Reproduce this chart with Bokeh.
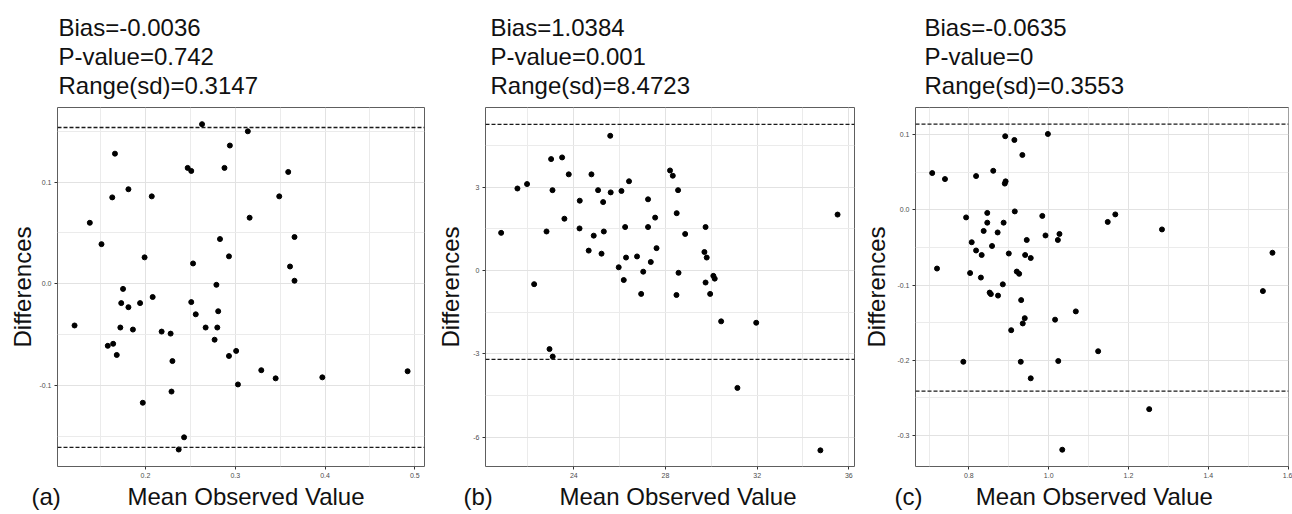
import numpy as np
from bokeh.plotting import figure
from bokeh.layouts import row
from bokeh.models import Span, FixedTicker, PrintfTickFormatter, Range1d, Title
from bokeh.embed import file_html
from bokeh.resources import INLINE

# ---------------- data ----------------
a_mean = [0.121, 0.138, 0.151, 0.158, 0.163, 0.164, 0.166, 0.168, 0.172, 0.173, 0.175, 0.181, 0.181, 0.186,
          0.194, 0.197, 0.199, 0.207, 0.208, 0.218, 0.228, 0.229, 0.230, 0.237, 0.243, 0.247, 0.251, 0.251,
          0.253, 0.256, 0.263, 0.267, 0.277, 0.279, 0.280, 0.281, 0.283, 0.288, 0.293, 0.293, 0.294, 0.301,
          0.303, 0.314, 0.316, 0.329, 0.345, 0.349, 0.359, 0.361, 0.366, 0.366, 0.397, 0.492]
a_diff = [-0.041, 0.060, 0.039, -0.061, 0.085, -0.059, 0.128, -0.070, -0.043, -0.019, -0.005, 0.093, -0.023,
          -0.045, -0.019, -0.117, 0.026, 0.086, -0.013, -0.047, -0.049, -0.106, -0.076, -0.163, -0.151, 0.114,
          0.111, -0.018, 0.020, -0.030, 0.157, -0.043, -0.055, -0.001, -0.043, -0.027, 0.044, 0.114, 0.027,
          -0.071, 0.136, -0.066, -0.099, 0.150, 0.065, -0.085, -0.093, 0.086, 0.110, 0.017, 0.046, 0.003,
          -0.092, -0.086]

b_mean = [20.83, 21.54, 21.96, 22.27, 22.81, 22.94, 23.01, 23.07, 23.08, 23.49, 23.59, 23.78, 24.25, 24.26,
          24.65, 24.77, 24.87, 25.06, 25.21, 25.28, 25.31, 25.59, 25.61, 25.96, 26.08, 26.18, 26.24, 26.28,
          26.41, 26.76, 26.94, 27.03, 27.24, 27.24, 27.36, 27.55, 27.61, 28.20, 28.32, 28.49, 28.48, 28.55,
          28.57, 28.86, 29.70, 29.75, 29.75, 29.80, 29.95, 30.09, 30.15, 30.43, 31.14, 31.96, 34.76, 35.51]
b_diff = [1.36, 2.96, 3.12, -0.49, 1.41, -2.83, 4.02, 2.90, -3.10, 4.08, 1.87, 3.47, 1.52, 2.52, 0.72, 3.47,
          1.26, 2.90, 0.61, 2.47, 1.41, 4.86, 2.82, 0.12, 2.87, -0.34, 1.57, 0.47, 3.22, 0.51, -0.84, -0.04,
          2.57, 1.57, 0.31, 1.91, 0.81, 3.61, 3.42, 2.07, -0.88, 2.90, -0.08, 1.32, 0.67, 1.57, -0.43, 0.47,
          -0.84, -0.19, -0.29, -1.83, -4.23, -1.88, -6.48, 2.02]

c_mean = [0.708, 0.720, 0.740, 0.786, 0.793, 0.803, 0.807, 0.818, 0.818, 0.830, 0.832, 0.837, 0.846, 0.846,
          0.852, 0.855, 0.858, 0.861, 0.872, 0.873, 0.885, 0.887, 0.890, 0.892, 0.891, 0.900, 0.906, 0.914,
          0.915, 0.920, 0.926, 0.930, 0.931, 0.934, 0.935, 0.940, 0.941, 0.945, 0.955, 0.955, 0.984, 0.992,
          0.998, 1.016, 1.023, 1.024, 1.027, 1.034, 1.068, 1.124, 1.148, 1.167, 1.252, 1.284, 1.537, 1.561]
c_diff = [0.049, -0.078, 0.041, -0.202, -0.010, -0.084, -0.043, 0.045, -0.054, -0.090, -0.060, -0.028, -0.004,
          -0.017, -0.110, -0.112, -0.048, 0.052, -0.030, -0.114, -0.099, -0.017, 0.035, 0.038, 0.098, -0.058,
          -0.160, 0.093, -0.002, -0.082, -0.085, -0.202, -0.120, 0.073, -0.151, -0.144, -0.060, -0.040, -0.224,
          -0.064, -0.008, -0.034, 0.101, -0.146, -0.040, -0.201, -0.032, -0.319, -0.135, -0.188, -0.016,
          -0.006, -0.265, -0.026, -0.108, -0.057]

bias_vals = [-0.0036, 1.0384, -0.0635]
bias_text = ["-0.0036", "1.0384", "-0.0635"]
p_text = ["0.742", "0.001", "0"]
range_sd = [0.3147, 8.4723, 0.3553]
range_text = ["0.3147", "8.4723", "0.3553"]
tags = ["(a)", "(b)", "(c)"]
x_title = "Mean Observed Value"
y_title = "Differences"

a_xticks = [0.2, 0.3, 0.4, 0.5]
a_xminor = [0.15, 0.25, 0.35, 0.45]
a_yticks = [-0.1, 0.0, 0.1]
a_yminor = [-0.15, -0.05, 0.05, 0.15]
b_xticks = [24, 28, 32, 36]
b_xminor = [22, 26, 30, 34]
b_yticks = [-6, -3, 0, 3]
b_yminor = [-4.5, -1.5, 1.5, 4.5]
c_xticks = [0.8, 1.0, 1.2, 1.4, 1.6]
c_xminor = [0.7, 0.9, 1.1, 1.3, 1.5]
c_yticks = [-0.3, -0.2, -0.1, 0.0, 0.1]
c_yminor = [-0.25, -0.15, -0.05, 0.05]

# ---------------- layout / style ----------------
FONT = "Liberation Sans"
NB = "\u00a0"
FIG_H = 514

panels = [
    dict(mean=a_mean, diff=a_diff, width=432, bl=57, br=8, bt=106, bb=45,
         xr=(0.102, 0.5108), yr=(-0.1797, 0.1734), xt=(a_xticks, a_xminor), yt=(a_yticks, a_yminor),
         xfmt="%.1f", yfmt="%.1f", title_off=1, ylab_stand=0, xlab_off=-26, gap=10),
    dict(mean=b_mean, diff=b_diff, width=428, bl=53, br=6, bt=107, bb=46,
         xr=(20.147, 36.249), yr=(-7.063, 5.880), xt=(b_xticks, b_xminor), yt=(b_yticks, b_yminor),
         xfmt="%d", yfmt="%d", title_off=5, ylab_stand=6, xlab_off=-22, gap=10),
    dict(mean=c_mean, diff=c_diff, width=432, bl=53, br=4, bt=105, bb=48,
         xr=(0.6661, 1.6012), yr=(-0.3413, 0.1362), xt=(c_xticks, c_xminor), yt=(c_yticks, c_yminor),
         xfmt="%.1f", yfmt="%.1f", title_off=9, ylab_stand=4, xlab_off=-21, gap=8),
]

figs = []
for i, cfg in enumerate(panels):
    p = figure(width=cfg["width"], height=FIG_H,
               min_border_left=cfg["bl"], min_border_right=cfg["br"],
               min_border_top=cfg["bt"], min_border_bottom=cfg["bb"],
               x_range=Range1d(*cfg["xr"]), y_range=Range1d(*cfg["yr"]),
               output_backend="svg", toolbar_location=None,
               background_fill_color="white", border_fill_color="white")
    p.outline_line_color = "#5e5e5e"
    p.outline_line_width = 1

    # stats block above the panel
    p.title.text = "\n".join(["Bias=" + bias_text[i], "P-value=" + p_text[i], "Range(sd)=" + range_text[i]])
    p.title.align = "left"
    p.title.offset = cfg["title_off"]
    p.title.text_font = FONT
    p.title.text_font_size = "24px"
    p.title.text_font_style = "normal"
    p.title.text_color = "#111111"
    p.title.text_line_height = 1.08
    p.title.standoff = 16

    p.xaxis.ticker = FixedTicker(ticks=cfg["xt"][0], minor_ticks=cfg["xt"][1])
    p.yaxis.ticker = FixedTicker(ticks=cfg["yt"][0], minor_ticks=cfg["yt"][1])
    p.xaxis.formatter = PrintfTickFormatter(format=cfg["xfmt"])
    p.yaxis.formatter = PrintfTickFormatter(format=cfg["yfmt"])
    for ax in (p.xaxis, p.yaxis):
        ax.axis_line_color = None
        ax.major_tick_line_color = "#333333"
        ax.major_tick_in = 0
        ax.major_tick_out = 3
        ax.minor_tick_line_color = None
        ax.major_label_text_font = FONT
        ax.major_label_text_font_size = "7px"
        ax.major_label_text_color = "#4d4d4d"
        ax.major_label_standoff = 2
    p.yaxis.axis_label = y_title
    p.yaxis.axis_label_text_font = FONT
    p.yaxis.axis_label_text_font_size = "24px"
    p.yaxis.axis_label_text_font_style = "normal"
    p.yaxis.axis_label_text_color = "#111111"
    p.yaxis.axis_label_standoff = cfg["ylab_stand"]

    # x title with panel tag on the same line, below the axis
    p.add_layout(Title(text=tags[i] + NB * cfg["gap"] + x_title, align="left", offset=cfg["xlab_off"],
                       text_font=FONT, text_font_size="24px", text_font_style="normal",
                       text_color="#111111", standoff=0), "below")

    for g in (p.xgrid, p.ygrid):
        g.grid_line_color = "#e2e2e2"
        g.grid_line_width = 1
        g.minor_grid_line_color = "#ebebeb"
        g.minor_grid_line_width = 1

    # limits of agreement: bias +/- range/2
    bias = bias_vals[i]
    half = range_sd[i] / 2.0
    for lim in (bias + half, bias - half):
        p.add_layout(Span(location=lim, dimension="width", line_color="#1a1a1a",
                          line_width=1.3, line_dash="4 2"))

    p.scatter(cfg["mean"], cfg["diff"], size=5, color="black")
    figs.append(p)

layout = row(*figs)
open("out.html", "w").write(file_html(layout, INLINE))
